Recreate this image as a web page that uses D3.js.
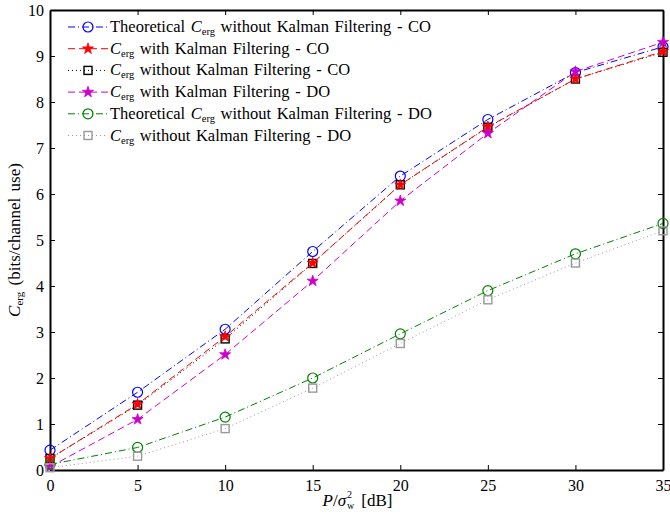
<!DOCTYPE html>
<html>
<head>
<meta charset="utf-8">
<title>Ergodic capacity vs SNR</title>
<style>
  body { margin: 0; background: #fff; }
  text { font-family: "Liberation Serif", "DejaVu Serif", serif; }
  .axis text { font-size: 16px; fill: #000; }
  .axis path, .axis line { stroke: #000; }
  .leg text { font-size: 16.5px; fill: #000; word-spacing: 1.5px; }
</style>
<script src="https://d3js.org/d3.v7.min.js"></script>
</head>
<body>
<div id="chart"></div>
<script>
// x values (dB)
var snr = [0, 5, 10, 15, 20, 25, 30, 35];

// series values
var theoCO   = [0.43, 1.69, 3.06, 4.75, 6.39, 7.62, 8.64, 9.2];
var kalmanCO = [0.25, 1.43, 2.9, 4.5, 6.2, 7.46, 8.5, 9.1];
var noKalCO  = [0.25, 1.41, 2.85, 4.49, 6.2, 7.45, 8.5, 9.08];
var kalmanDO = [0.07, 1.1, 2.51, 4.11, 5.85, 7.32, 8.66, 9.3];
var theoDO   = [0.12, 0.49, 1.15, 2.0, 2.96, 3.9, 4.7, 5.36];
var noKalDO  = [0.05, 0.3, 0.9, 1.78, 2.75, 3.7, 4.5, 5.2];

var xTicks = [0, 5, 10, 15, 20, 25, 30, 35];
var yTicks = [0, 1, 2, 3, 4, 5, 6, 7, 8, 9, 10];

var series = [
  {pre: "Theoretical ", post: " without Kalman Filtering - CO", values: theoCO, color: "#0000ff", dash: "7,3,1,3", marker: "circle", fill: "none"},
  {pre: "", post: " with Kalman Filtering - CO", values: kalmanCO, color: "#ff0000", dash: "7,4", marker: "star", fill: "#ff0000"},
  {pre: "", post: " without Kalman Filtering - CO", values: noKalCO, color: "#000000", dash: "1,3", marker: "square", fill: "none"},
  {pre: "", post: " with Kalman Filtering - DO", values: kalmanDO, color: "#cc00cc", dash: "7,4", marker: "star", fill: "#cc00cc"},
  {pre: "Theoretical ", post: " without Kalman Filtering - DO", values: theoDO, color: "#008000", dash: "7,3,1,3", marker: "circle", fill: "none"},
  {pre: "", post: " without Kalman Filtering - DO", values: noKalDO, color: "#999999", dash: "1,3", marker: "square", fill: "none"}
];
// draw order: noKal squares beneath the red stars
var drawOrder = [0, 2, 1, 3, 4, 5];

var margin = {top: 10, right: 7, bottom: 45, left: 50},
    width = 670 - margin.left - margin.right,
    height = 515 - margin.top - margin.bottom;

var svg = d3.select("#chart").append("svg")
  .attr("width", 670)
  .attr("height", 515)
  .append("g")
  .attr("transform", "translate(" + margin.left + "," + margin.top + ")");

var x = d3.scaleLinear().domain([0, 35]).range([0, width]);
var y = d3.scaleLinear().domain([0, 10]).range([height, 0]);

// axes (ticks inward, box)
svg.append("g")
  .attr("class", "x axis")
  .attr("transform", "translate(0," + height + ")")
  .call(d3.axisBottom(x).tickValues(xTicks).tickSizeInner(-5).tickSizeOuter(0).tickPadding(10))
  .call(g => g.selectAll("text").attr("dy", "0.71em"));

svg.append("g")
  .attr("class", "x axis")
  .call(d3.axisTop(x).tickValues(xTicks).tickSizeInner(-5).tickSizeOuter(0).tickFormat(""));

svg.append("g")
  .attr("class", "y axis")
  .call(d3.axisLeft(y).tickValues(yTicks).tickSizeInner(-5).tickSizeOuter(0).tickPadding(4))
  .call(g => g.selectAll("text").attr("dx", "-2"));

svg.append("g")
  .attr("class", "y axis")
  .attr("transform", "translate(" + width + ",0)")
  .call(d3.axisRight(y).tickValues(yTicks).tickSizeInner(-5).tickSizeOuter(0).tickFormat(""));

svg.selectAll(".axis path.domain").attr("stroke-width", 2);
svg.selectAll(".axis line").attr("stroke-width", 1);

var line = d3.line()
  .x((d, i) => x(snr[i]))
  .y(d => y(d));

var star = d3.symbol().type(d3.symbolStar).size(38);

function drawMarker(g, s, cx, cy) {
  if (s.marker == "circle") {
    g.append("circle").attr("cx", cx).attr("cy", cy).attr("r", 5)
      .attr("fill", "none").attr("stroke", s.color).attr("stroke-width", 1.2);
  } else if (s.marker == "square") {
    g.append("rect").attr("x", cx - 4).attr("y", cy - 4).attr("width", 8).attr("height", 8)
      .attr("fill", "none").attr("stroke", s.color).attr("stroke-width", 1.4);
  } else {
    g.append("path").attr("d", star).attr("transform", "translate(" + cx + "," + cy + ")")
      .attr("fill", s.fill).attr("stroke", s.color).attr("stroke-width", 0.8);
  }
}

var plot = svg.append("g").attr("class", "lines");
drawOrder.forEach(function(k) {
  var s = series[k];
  var g = plot.append("g");
  g.append("path")
    .attr("d", line(s.values))
    .attr("fill", "none")
    .attr("stroke", s.color)
    .attr("stroke-width", 1)
    .attr("stroke-dasharray", s.dash);
  s.values.forEach(function(v, i) { drawMarker(g, s, x(snr[i]), y(v)); });
});

// legend
var leg = svg.append("g").attr("class", "leg");
series.forEach(function(s, i) {
  var ly = 17 + i * 21.7;
  var g = leg.append("g");
  g.append("line").attr("x1", 18).attr("x2", 58).attr("y1", ly).attr("y2", ly)
    .attr("stroke", s.color).attr("stroke-width", 1).attr("stroke-dasharray", s.dash);
  drawMarker(g, s, 38, ly);
  var t = g.append("text").attr("x", 60).attr("y", ly + 5);
  if (s.pre) t.append("tspan").text(s.pre);
  t.append("tspan").attr("font-style", "italic").text("C");
  t.append("tspan").attr("font-size", "10.5px").attr("dy", 3).text("erg");
  t.append("tspan").attr("dy", -3).text(" " + s.post);
});

// axis titles
var yl = svg.append("text")
  .attr("transform", "translate(-30," + (height / 2) + ") rotate(-90)")
  .attr("text-anchor", "middle")
  .attr("font-size", "17px")
  .attr("word-spacing", "2px");
yl.append("tspan").attr("font-style", "italic").text("C");
yl.append("tspan").attr("font-size", "11px").attr("dy", 3).text("erg");
yl.append("tspan").attr("dy", -3).text("  (bits/channel use)");

// x title: P/σ_w^2 [dB], built from pieces so sub/superscript stack
var xlG = svg.append("g").attr("class", "xlabel");
var baseY = height + 36;
var p1 = xlG.append("text").attr("y", baseY).attr("font-size", "17px");
p1.append("tspan").attr("font-style", "italic").text("P");
p1.append("tspan").text("/");
p1.append("tspan").attr("font-style", "italic").text("σ");
var sup = xlG.append("text").attr("y", baseY - 8).attr("font-size", "10px").text("2");
var sub = xlG.append("text").attr("y", baseY + 3).attr("font-size", "10px").text("w");
var p2 = xlG.append("text").attr("y", baseY).attr("font-size", "17px").text("[dB]");
var w1 = p1.node().getComputedTextLength();
var wS = Math.max(sup.node().getComputedTextLength(), sub.node().getComputedTextLength());
var w2 = p2.node().getComputedTextLength();
var total = w1 + 1 + wS + 7 + w2;
var x0 = width / 2 + 1 - total / 2;
p1.attr("x", x0);
sup.attr("x", x0 + w1 + 1);
sub.attr("x", x0 + w1 + 1);
p2.attr("x", x0 + w1 + 1 + wS + 7);
</script>
</body>
</html>
